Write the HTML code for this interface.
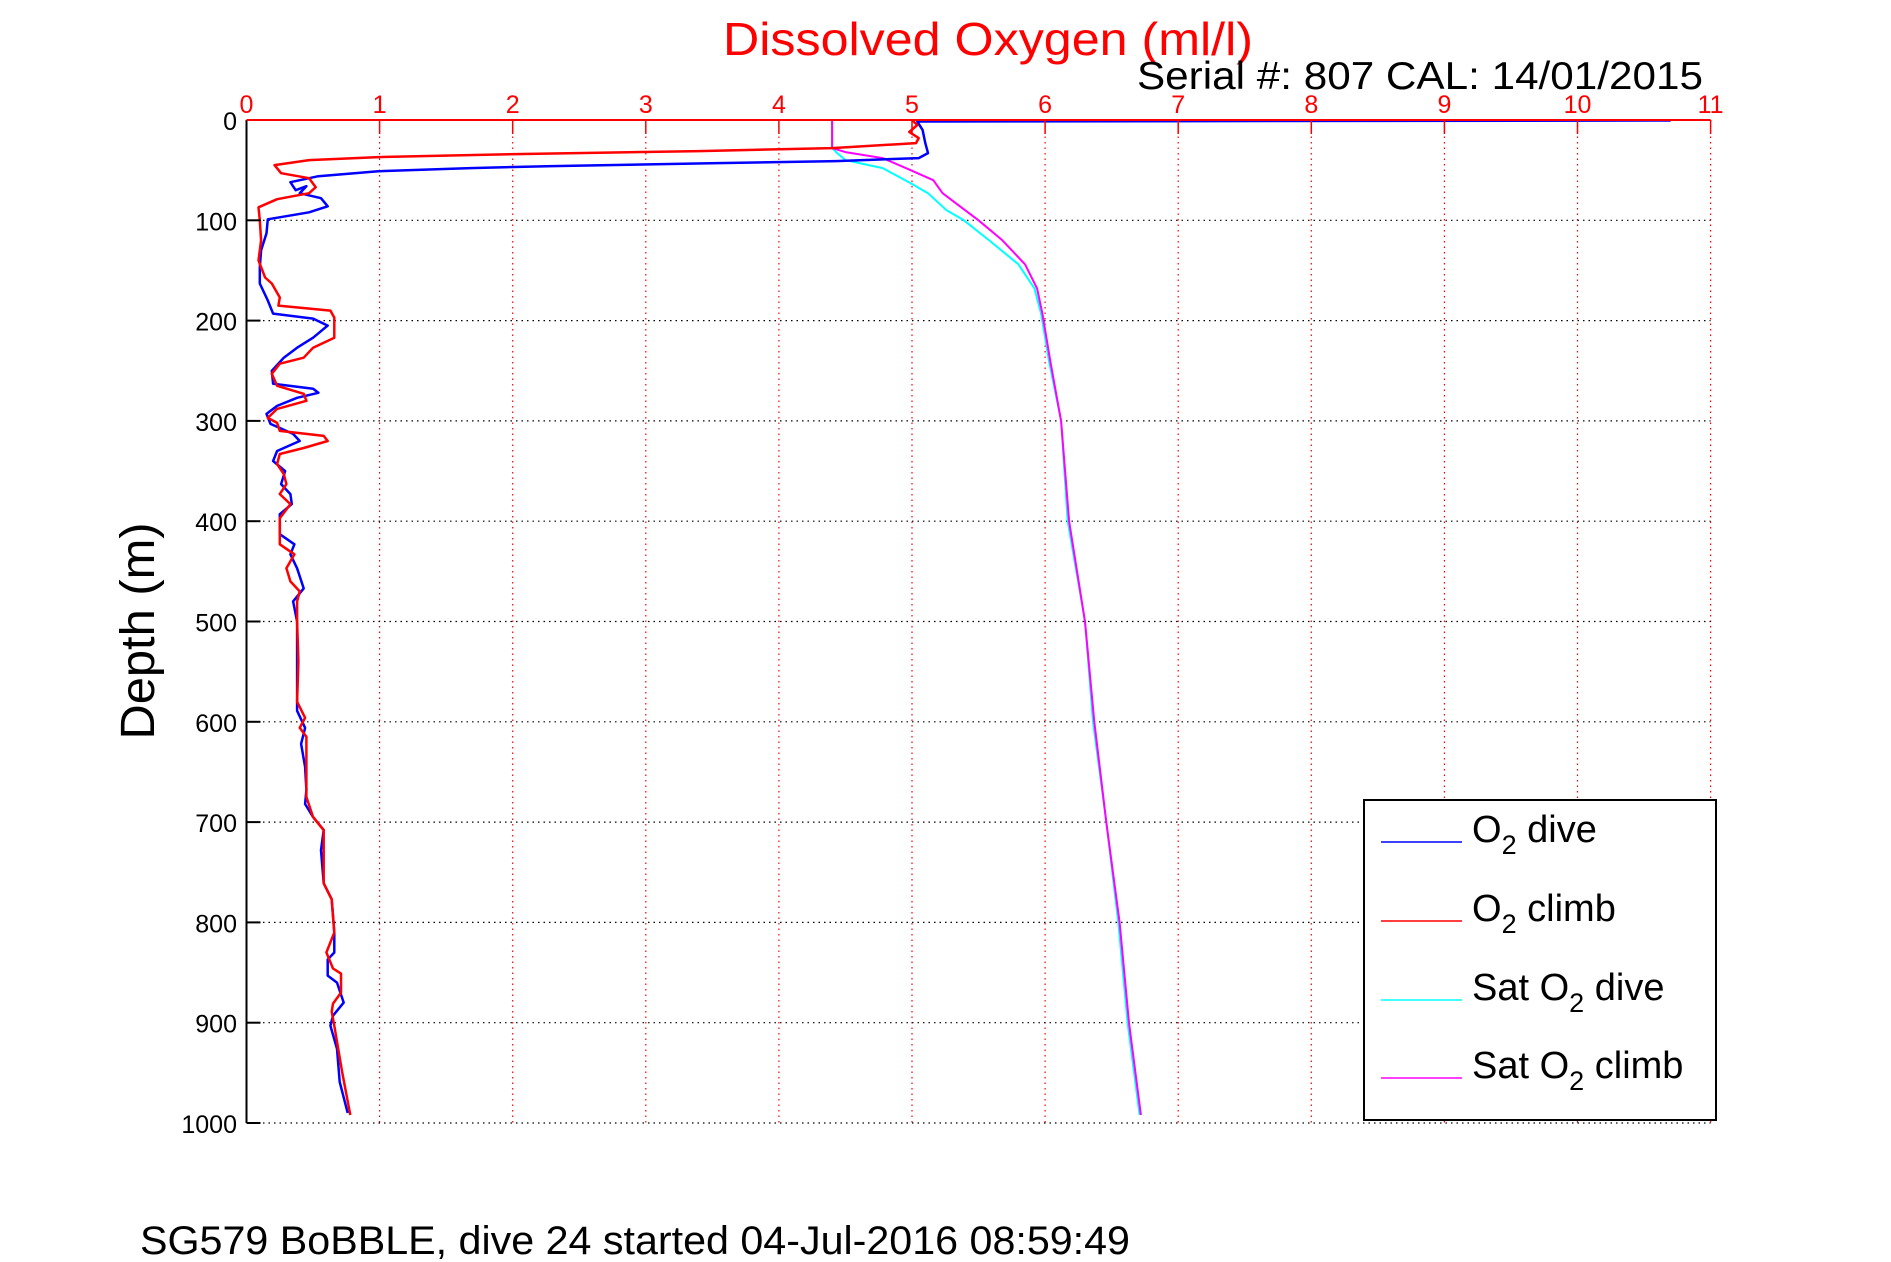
<!DOCTYPE html>
<html><head><meta charset="utf-8"><style>
html,body{margin:0;padding:0;background:#fff;}
svg{display:block;font-family:"Liberation Sans",Arial,sans-serif;}
</style></head><body>
<svg id="chart" width="1891" height="1262" viewBox="0 0 1891 1262" xmlns="http://www.w3.org/2000/svg">
<rect x="0" y="0" width="1891" height="1262" fill="#fff"/>
<g id="grid"></g>
<g id="series"></g>
<g id="axes"></g>
<text x="723" y="55" font-size="46" fill="#ff0000" textLength="530" lengthAdjust="spacingAndGlyphs">Dissolved Oxygen (ml/l)</text>
<text x="1137" y="89" font-size="39" fill="#000" textLength="566" lengthAdjust="spacingAndGlyphs">Serial #: 807  CAL: 14/01/2015</text>
<text transform="translate(154,631) rotate(-90)" font-size="48" fill="#000" text-anchor="middle" textLength="217" lengthAdjust="spacingAndGlyphs">Depth (m)</text>
<text x="140" y="1254" font-size="40" fill="#000" textLength="990" lengthAdjust="spacingAndGlyphs">SG579 BoBBLE, dive 24 started 04-Jul-2016 08:59:49</text>
<g id="legend">
<rect x="1364" y="800" width="352" height="320" fill="#fff" stroke="#000" stroke-width="2"/>
<g><line x1="1381" y1="842" x2="1462" y2="842" stroke="#0000ff" stroke-width="1.5"/><text x="1472" y="842" font-size="38">O<tspan font-size="27" dy="12">2</tspan><tspan dy="-12"> dive</tspan></text></g>
<g><line x1="1381" y1="921" x2="1462" y2="921" stroke="#ff0000" stroke-width="1.5"/><text x="1472" y="921" font-size="38">O<tspan font-size="27" dy="12">2</tspan><tspan dy="-12"> climb</tspan></text></g>
<g><line x1="1381" y1="1000" x2="1462" y2="1000" stroke="#00ffff" stroke-width="1.5"/><text x="1472" y="1000" font-size="38">Sat O<tspan font-size="27" dy="12">2</tspan><tspan dy="-12"> dive</tspan></text></g>
<g><line x1="1381" y1="1078" x2="1462" y2="1078" stroke="#ff00ff" stroke-width="1.5"/><text x="1472" y="1078" font-size="38">Sat O<tspan font-size="27" dy="12">2</tspan><tspan dy="-12"> climb</tspan></text></g>
</g>
</svg>
<script>
const xTicks = [0,1,2,3,4,5,6,7,8,9,10,11];
const yTicks = [0,100,200,300,400,500,600,700,800,900,1000];
const diveDepth = [0.5,1.5,10,23,33,38,41,43,46,48,51,56,62,70,66,73,78,86,92,99,113,130,147,163,180,193,198,205,217,227,237,250,263,268,272,277,285,293,303,313,320,330,340,350,363,373,383,393,413,423,433,447,467,480,500,540,563,589,606,622,645,668,682,695,708,728,761,777,810,830,837,853,860,880,893,903,926,959,990];
const diveO2 = [10.7,5.04,5.08,5.1,5.12,5.05,4.43,3.54,2.3,1.68,0.99,0.54,0.33,0.37,0.45,0.4,0.56,0.61,0.47,0.16,0.15,0.11,0.1,0.1,0.16,0.2,0.5,0.61,0.5,0.38,0.28,0.19,0.2,0.5,0.54,0.38,0.23,0.15,0.18,0.35,0.4,0.23,0.2,0.29,0.26,0.33,0.34,0.25,0.25,0.36,0.33,0.38,0.43,0.35,0.38,0.38,0.38,0.38,0.44,0.41,0.44,0.45,0.44,0.5,0.58,0.56,0.58,0.64,0.66,0.66,0.61,0.61,0.68,0.73,0.65,0.63,0.68,0.7,0.76];
const climbDepth = [0,5,12,18,23,28,31,34,37,40,45,53,58,67,73,79,87,100,120,140,157,163,177,185,190,197,217,227,237,243,253,265,273,280,288,297,302,310,315,320,327,333,343,353,363,373,383,397,423,433,447,460,470,480,500,540,580,596,606,615,675,695,708,761,777,810,830,846,851,870,881,889,903,950,992];
const climbO2 = [5.0,5.04,4.98,5.05,5.03,4.4,3.4,2.02,0.99,0.47,0.21,0.26,0.47,0.52,0.47,0.23,0.09,0.1,0.11,0.09,0.14,0.19,0.25,0.24,0.63,0.66,0.66,0.5,0.43,0.25,0.19,0.23,0.43,0.45,0.23,0.16,0.23,0.25,0.58,0.61,0.43,0.25,0.23,0.28,0.3,0.25,0.33,0.25,0.25,0.36,0.3,0.33,0.4,0.38,0.38,0.39,0.38,0.44,0.4,0.45,0.45,0.5,0.58,0.58,0.64,0.66,0.6,0.65,0.71,0.71,0.65,0.64,0.66,0.72,0.78];
const satDiveDepth = [0,28,32,40,48,63,73,90,100,120,144,168,193,241,300,400,500,600,700,800,900,992];
const satDiveO2 = [4.4,4.4,4.43,4.5,4.78,4.99,5.12,5.26,5.39,5.58,5.8,5.92,5.97,6.03,6.12,6.17,6.3,6.36,6.46,6.55,6.62,6.71];
const satClimbDepth = [0,28,32,38,50,60,73,85,100,120,144,168,193,241,300,400,500,600,700,800,900,992];
const satClimbO2 = [4.4,4.4,4.5,4.78,4.99,5.16,5.23,5.35,5.5,5.68,5.85,5.94,5.98,6.04,6.12,6.18,6.3,6.37,6.46,6.56,6.63,6.72];

const X0 = 246.5, X1 = 1710.6, Y0 = 120, Y1 = 1123;
const xs = v => X0 + (X1 - X0) * v / 11;
const ys = d => Y0 + (Y1 - Y0) * d / 1000;
const NS = 'http://www.w3.org/2000/svg';
function mk(tag, parent, attrs) {
  const el = document.createElementNS(NS, tag);
  for (const k in attrs) el.setAttribute(k, attrs[k]);
  parent.appendChild(el);
  return el;
}
const grid = document.getElementById('grid');
const axes = document.getElementById('axes');
const series = document.getElementById('series');

xTicks.forEach(v => {
  if (v > 0) {
    const g = mk('line', grid, {x1: xs(v), y1: Y0, x2: xs(v), y2: Y1, stroke: '#ff0000', 'stroke-width': 1.2, 'stroke-dasharray': '1.5 4'});
    
    
    const t = mk('line', axes, {x1: xs(v), y1: Y0, x2: xs(v), y2: Y0 + 14, stroke: '#ff0000', 'stroke-width': 1.5});
    
    
  }
  const lb = mk('text', axes, {x: xs(v), y: 113, 'font-size': 25, fill: '#ff0000', 'text-anchor': 'middle'});
  lb.textContent = v;
  
  
});
yTicks.forEach(d => {
  if (d > 0) {
    const g = mk('line', grid, {x1: X0, y1: ys(d), x2: X1, y2: ys(d), stroke: '#000', 'stroke-width': 1.2, 'stroke-dasharray': '1.5 4'});
    
    
  }
  const t = mk('line', axes, {x1: X0, y1: ys(d), x2: X0 + 14, y2: ys(d), stroke: '#000', 'stroke-width': 2});
  
  
  const lb = mk('text', axes, {x: 237, y: ys(d) + 10, 'font-size': 25, fill: '#000', 'text-anchor': 'end'});
  lb.textContent = d;
  
  
});
const la = mk('line', axes, {x1: X0, y1: Y0, x2: X0, y2: Y1, stroke: '#000', 'stroke-width': 2});


const ta = mk('line', axes, {x1: X0, y1: Y0, x2: X1, y2: Y0, stroke: '#ff0000', 'stroke-width': 2});



function drawLine(xv, dv, color, w, name) {
  const pts = xv.map((v, i) => xs(v).toFixed(1) + ',' + ys(dv[i]).toFixed(1)).join(' ');
  const p = mk('polyline', series, {points: pts, fill: 'none', stroke: color, 'stroke-width': w, 'stroke-linejoin': 'round'});
  
  
}
drawLine(satDiveO2, satDiveDepth, '#00ffff', 2, 'sat-o2-dive-line');
drawLine(satClimbO2, satClimbDepth, '#ff00ff', 2, 'sat-o2-climb-line');
drawLine(diveO2, diveDepth, '#0000ff', 2.5, 'o2-dive-line');
drawLine(climbO2, climbDepth, '#ff0000', 2.5, 'o2-climb-line');
</script>
</body></html>
